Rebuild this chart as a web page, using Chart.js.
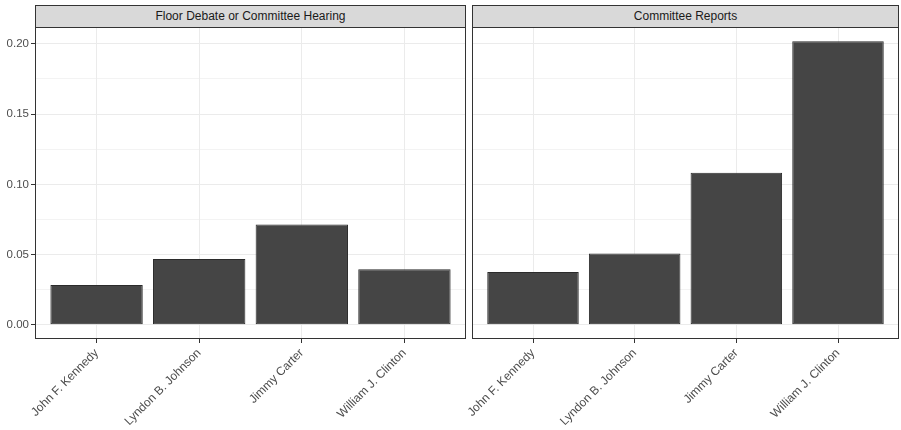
<!DOCTYPE html>
<html>
<head>
<meta charset="utf-8">
<script src="https://cdn.jsdelivr.net/npm/chart.js"></script>
<style>
  html, body { margin: 0; padding: 0; background: #fff; }
  #wrap { position: relative; width: 901px; height: 430px; overflow: hidden; }
  .strip {
    position: absolute; top: 5px; height: 23px; box-sizing: border-box;
    border: 1px solid #333; background: #d9d9d9; color: #1a1a1a;
    font: 12px "Liberation Sans", Arial, sans-serif; text-align: center; line-height: 21px;
  }
  .panel { position: absolute; top: 27px; height: 403px; }
</style>
</head>
<body>
<div id="wrap">
  <div class="strip" style="left:35px;width:431px;">Floor Debate or Committee Hearing</div>
  <div class="strip" style="left:472px;width:427px;">Committee Reports</div>
  <div class="panel" style="left:0;width:467px;"><canvas id="left"></canvas></div>
  <div class="panel" style="left:412px;width:488px;"><canvas id="right"></canvas></div>
</div>
<script>
const presidents = ["John F. Kennedy", "Lyndon B. Johnson", "Jimmy Carter", "William J. Clinton"];
const floorValues = [0.0284, 0.0468, 0.0714, 0.0395];
const reportValues = [0.0376, 0.0508, 0.1083, 0.2019];
const majorTicks = [0, 0.05, 0.10, 0.15, 0.20];
const minorTicks = [0.025, 0.075, 0.125, 0.175];

const FONT = "'Liberation Sans', Arial, sans-serif";
const isMajor = v => majorTicks.some(m => Math.abs(m - v) < 1e-9);

// panel border all round, like theme_bw
const panelBorder = {
  id: "panelBorder",
  afterDraw(chart) {
    const a = chart.chartArea, ctx = chart.ctx;
    ctx.save();
    ctx.strokeStyle = "#333";
    ctx.lineWidth = 1;
    ctx.strokeRect(Math.round(a.left) + 0.5, Math.round(a.top) + 0.5,
      Math.round(a.right - a.left) - 1, Math.round(a.bottom - a.top) - 1);
    ctx.restore();
  }
};

function makeChart(id, values, showY, padLeft) {
  return new Chart(document.getElementById(id), {
    type: "bar",
    data: {
      datasets: [{
        // categories sit at 1..n on a linear scale so the 0.6 side expansion can be kept
        data: values.map((v, i) => ({ x: i + 1, y: v })),
        backgroundColor: "#454545",
        borderColor: "#2b2b2b",
        borderWidth: 1,
        borderSkipped: false,
        barPercentage: 0.9,
        categoryPercentage: 1.0
      }]
    },
    options: {
      responsive: true,
      maintainAspectRatio: false,
      animation: false,
      events: [],
      layout: { padding: { left: padLeft, right: 1, top: 0, bottom: 0 } },
      plugins: { legend: { display: false }, tooltip: { enabled: false } },
      scales: {
        x: {
          type: "linear",
          min: 0.4,
          max: presidents.length + 0.6,
          offset: false,
          afterBuildTicks(s) {
            s.ticks = presidents.map((p, i) => ({ value: i + 1 }));
          },
          grid: {
            offset: false,
            color: "#ebebeb",
            lineWidth: 1,
            drawTicks: true,
            tickLength: 4,
            tickColor: "#333"
          },
          border: { display: false },
          ticks: {
            autoSkip: false,
            maxRotation: 45,
            minRotation: 45,
            padding: 3,
            color: "#4d4d4d",
            font: { family: FONT, size: 12 },
            callback: v => presidents[Math.round(v) - 1] || ""
          },
          afterFit(s) { s.height = 91; s.paddingLeft = 0; s.paddingRight = 0; }
        },
        y: {
          min: -0.0101,
          max: 0.212,
          afterBuildTicks(s) {
            s.ticks = majorTicks.concat(minorTicks).sort((a, b) => a - b).map(v => ({ value: v }));
          },
          grid: {
            color: "#ebebeb",
            lineWidth: c => (c.tick && isMajor(c.tick.value)) ? 1 : 0.6,
            drawTicks: showY,
            tickLength: 4,
            tickColor: c => (c.tick && isMajor(c.tick.value)) ? "#333" : "rgba(0,0,0,0)"
          },
          border: { display: false },
          ticks: {
            display: showY,
            padding: 2,
            color: "#4d4d4d",
            font: { family: FONT, size: 11.5 },
            callback: v => isMajor(v) ? v.toFixed(2) : ""
          },
          afterFit(s) {
            s.width = showY ? 35 : 0;
            s.paddingTop = 0;
            s.paddingBottom = 0;
          }
        }
      }
    },
    plugins: [panelBorder]
  });
}

makeChart("left", floorValues, true, 0);
makeChart("right", reportValues, false, 60);
</script>
</body>
</html>
